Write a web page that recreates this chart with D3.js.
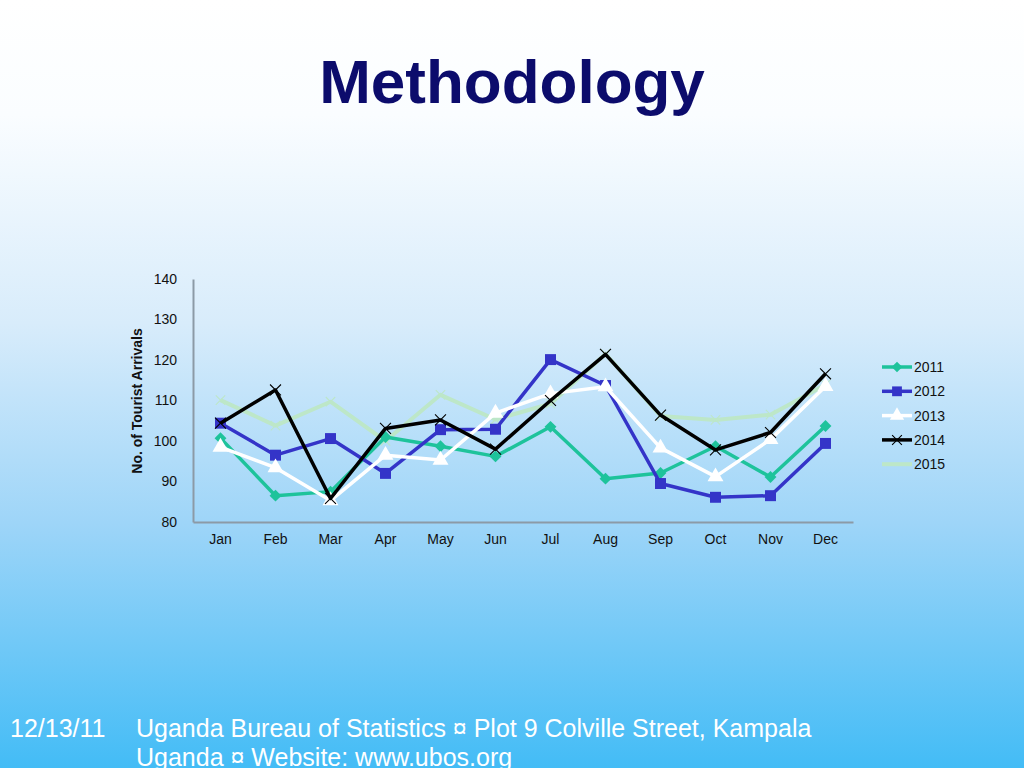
<!DOCTYPE html>
<html>
<head>
<meta charset="utf-8">
<script src="https://cdn.jsdelivr.net/npm/d3@7"></script>
<style>
  body { margin: 0; overflow: hidden; }
  svg { display: block; font-family: "Liberation Sans", Arial, sans-serif; }
</style>
</head>
<body>
<div id="chart"></div>
<script>
// data
var months = ["Jan","Feb","Mar","Apr","May","Jun","Jul","Aug","Sep","Oct","Nov","Dec"];
var years = ["2011","2012","2013","2014","2015"];
var v2011 = [100.7, 86.5, 87.5, 101.0, 98.7, 96.2, 103.5, 90.7, 92.1, 98.7, 91.1, 103.7];
var v2012 = [104.4, 96.5, 100.6, 92.0, 102.8, 102.9, 120.1, 113.7, 89.5, 86.1, 86.5, 99.4];
var v2013 = [98.5, 93.4, 85.3, 96.5, 95.3, 106.9, 111.7, 113.4, 98.3, 91.2, 100.4, 113.5];
var v2014 = [104.4, 112.6, 85.8, 103.1, 105.2, 98.0, 110.0, 121.4, 106.4, 97.8, 102.1, 116.6];
var v2015 = [110.1, 103.8, 109.7, 100.0, 111.4, 105.3, 109.2, 121.5, 106.2, 105.2, 106.5, 113.9];
var yTicks = [80, 90, 100, 110, 120, 130, 140];
var footerLine1 = "Uganda Bureau of Statistics \u00a4 Plot 9 Colville Street, Kampala";
var footerLine2 = "Uganda \u00a4 Website: www.ubos.org";

var allValues = [v2011, v2012, v2013, v2014, v2015];

var W = 1024, H = 768;
var svg = d3.select("#chart").append("svg")
  .attr("width", W).attr("height", H);

// slide background gradient
var grad = svg.append("defs").append("linearGradient")
  .attr("id", "bg").attr("x1", 0).attr("y1", 0).attr("x2", 0).attr("y2", 1);
grad.append("stop").attr("offset", "0%").attr("stop-color", "#ffffff");
grad.append("stop").attr("offset", "15%").attr("stop-color", "#fafdff");
grad.append("stop").attr("offset", "42%").attr("stop-color", "#d8ecfb");
grad.append("stop").attr("offset", "68%").attr("stop-color", "#9ed5f8");
grad.append("stop").attr("offset", "100%").attr("stop-color", "#43bcf6");
svg.append("rect").attr("width", W).attr("height", H).attr("fill", "url(#bg)");

// title
svg.append("text")
  .attr("x", 512).attr("y", 103)
  .attr("text-anchor", "middle")
  .style("font-size", "62px").style("font-weight", "bold")
  .style("fill", "#0c0c6c")
  .text("Methodology");

// chart area
var margin = {top: 279, left: 193},
    width = 660, height = 243;
var g = svg.append("g")
  .attr("transform", "translate(" + margin.left + "," + margin.top + ")");

var x = d3.scaleBand().domain(months).range([0, width]);
var y = d3.scaleLinear().domain([80, 140]).range([height, 0]);

// axes
var xAxis = g.append("g")
  .attr("transform", "translate(0," + height + ")")
  .call(d3.axisBottom(x).tickSize(0).tickPadding(12));
var yAxis = g.append("g")
  .call(d3.axisLeft(y).tickValues(yTicks).tickSize(0).tickPadding(16));
[xAxis, yAxis].forEach(function(a) {
  a.select(".domain").attr("stroke", "#8c9aa6").attr("stroke-width", 2);
  a.selectAll("text").style("font-size", "14px").style("fill", "#111")
    .style("font-family", "'Liberation Sans', Arial, sans-serif");
});

// axis title
svg.append("text")
  .attr("transform", "translate(142,401) rotate(-90)")
  .attr("text-anchor", "middle")
  .style("font-size", "14px").style("font-weight", "bold").style("fill", "#111")
  .text("No. of Tourist Arrivals");

var styles = [
  {color: "#1ec39b", width: 3.5, marker: d3.symbolDiamond2, size: 90},
  {color: "#3434c8", width: 3.5, marker: d3.symbolSquare, size: 120},
  {color: "#ffffff", width: 3.5, marker: d3.symbolTriangle, size: 110},
  {color: "#000000", width: 3.5, marker: d3.symbolX, size: 80, stroke: true},
  {color: "#bde7c8", width: 4, marker: d3.symbolX, size: 60, stroke: true}
];
// draw order: 2015 at the back
var order = [4, 0, 1, 2, 3];

var line = d3.line()
  .x(function(d, i) { return x(months[i]) + x.bandwidth() / 2; })
  .y(function(d) { return y(d); });

order.forEach(function(k) {
  var s = styles[k];
  g.append("path")
    .datum(allValues[k])
    .attr("d", line)
    .attr("fill", "none")
    .attr("stroke", s.color)
    .attr("stroke-width", s.width)
    .attr("stroke-linejoin", "round");
  g.selectAll(".m" + k)
    .data(allValues[k])
    .enter().append("path")
      .attr("transform", function(d, i) {
        return "translate(" + (x(months[i]) + x.bandwidth() / 2) + "," + y(d) + ")";
      })
      .attr("d", d3.symbol().type(s.marker).size(s.size))
      .attr("fill", s.stroke ? "none" : s.color)
      .attr("stroke", s.color)
      .attr("stroke-width", s.stroke ? 1.1 : 0);
});

// legend
var legend = svg.append("g").attr("transform", "translate(882,367)");
years.forEach(function(yr, k) {
  var s = styles[k];
  var row = legend.append("g").attr("transform", "translate(0," + (k * 24.3) + ")");
  row.append("line").attr("x1", 0).attr("x2", 30)
    .attr("stroke", s.color).attr("stroke-width", s.width);
  if (k < 4) {
    row.append("path")
      .attr("transform", "translate(15,0)")
      .attr("d", d3.symbol().type(s.marker).size(s.size * 0.8))
      .attr("fill", s.stroke ? "none" : s.color)
      .attr("stroke", s.color)
      .attr("stroke-width", s.stroke ? 1.1 : 0);
  }
  row.append("text").attr("x", 32).attr("y", 5)
    .style("font-size", "14px").style("fill", "#111")
    .text(yr);
});

// footer
svg.append("text").attr("x", 10).attr("y", 737)
  .style("font-size", "25px").style("fill", "#ffffff").text("12/13/11");
svg.append("text").attr("x", 136).attr("y", 737)
  .style("font-size", "25px").style("fill", "#ffffff").text(footerLine1);
svg.append("text").attr("x", 136).attr("y", 766)
  .style("font-size", "25px").style("fill", "#ffffff").text(footerLine2);
</script>
</body>
</html>
